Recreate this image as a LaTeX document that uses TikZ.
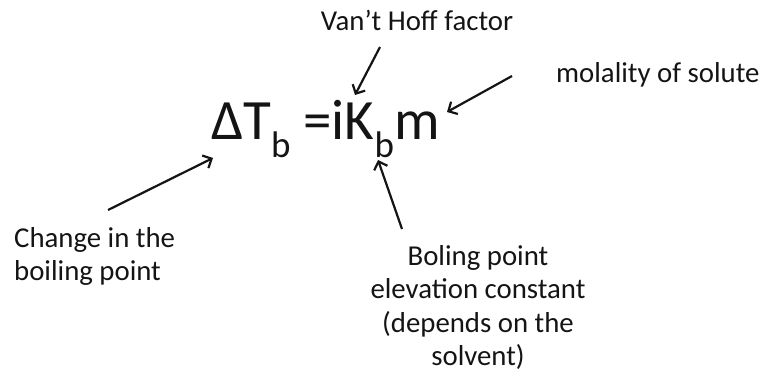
\documentclass[tikz,border=0pt]{standalone}
\usepackage{fontspec}
\setmainfont{Carlito}
\usetikzlibrary{arrows.meta}
\begin{document}
\begin{tikzpicture}[x=1pt,y=-1pt,
  lbl/.style={font=\fontsize{28.8}{33.5}\selectfont, inner sep=0pt, text=black!92},
  eqn/.style={font=\fontsize{57}{60}\selectfont, inner sep=0pt, text=black!92},
  arr/.style={line width=2.2pt, draw=black!92, -{Straight Barb[length=7pt,width=14pt,line width=2.2pt]}}]
\useasboundingbox (0,0) rectangle (762,372);
\newcommand{\mysub}[1]{\raisebox{-18pt}{\fontsize{37}{40}\selectfont #1}}
% equation
\node[eqn, anchor=base west] (eq) at (211,139) {ΔT\mysub{b} =iK\mysub{b}m};
% labels
\node[lbl, anchor=base] (vh) at (417,30) {Van’t Hoff factor};
\node[lbl, anchor=base west] (mol) at (556,82) {molality of solute};
\node[lbl, anchor=north west, align=left] (chg) at (14,223.5) {\strut Change in the\\boiling point};
\node[lbl, anchor=north, align=center] (kb) at (478,241.5) {\strut Boling point\\elevation constant\\(depends on the\\solvent)};
% arrow ends
\coordinate (vhT) at (380,47);  \coordinate (vhH) at (355,95);
\coordinate (molT) at (512,76); \coordinate (molH) at (447,112);
\coordinate (chgT) at (108,210); \coordinate (chgH) at (213,158);
\coordinate (kbT) at (402,229); \coordinate (kbH) at (378,160);
\draw[arr] (vhT) -- (vhH);
\draw[arr] (molT) -- (molH);
\draw[arr] (chgT) -- (chgH);
\draw[arr] (kbT) -- (kbH);
\end{tikzpicture}
\end{document}
